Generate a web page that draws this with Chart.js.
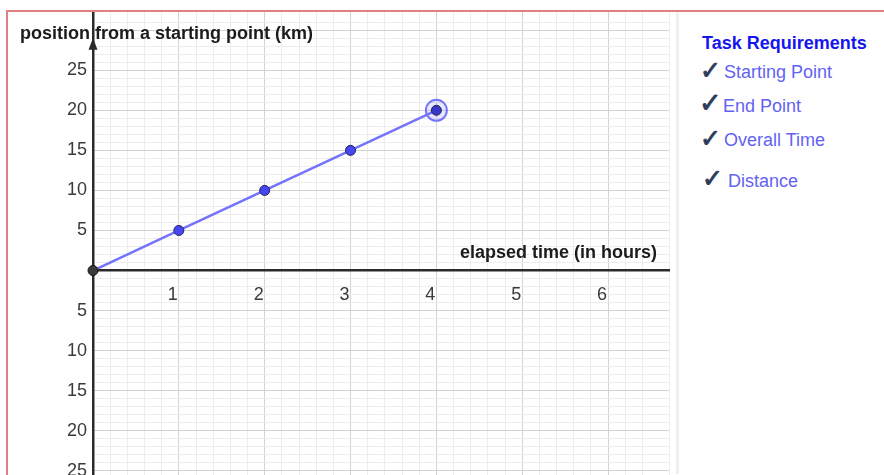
<!DOCTYPE html>
<html>
<head>
<meta charset="utf-8">
<script src="https://cdn.jsdelivr.net/npm/chart.js@4"></script>
<style>
html, body { margin: 0; padding: 0; background: #fff; width: 884px; height: 475px; overflow: hidden; font-family: "Liberation Sans", Arial, sans-serif; }
#frame { position: absolute; left: 6px; top: 10px; width: 900px; height: 520px; border-left: 2px solid #e08080; border-top: 2px solid #e08080; z-index: 2; }
#wrap { position: absolute; left: 9px; top: -5px; width: 674px; height: 523px; z-index: 1; }
#sep { position: absolute; left: 676px; top: 12px; width: 3px; height: 462px; background: #f0f0f0; }
.axis-title { position: absolute; font-weight: bold; font-size: 18px; line-height: 20px; color: #1b1b1b; white-space: nowrap; z-index: 3; }
#panel-title { position: absolute; left: 702px; top: 33px; font-weight: bold; font-size: 18px; line-height: 20px; color: #1515ee; white-space: nowrap; }
.req { position: absolute; font-size: 18px; line-height: 20px; color: #6262f2; white-space: nowrap; }
.req .tick { position: absolute; color: #2d3c58; font-family: "DejaVu Sans", sans-serif; font-size: 25px; line-height: 24px; -webkit-text-stroke: 0.9px #2d3c58; }
</style>
</head>
<body>
<div id="frame"></div>
<div id="sep"></div>
<div id="wrap"><canvas id="distChart" width="674" height="523"></canvas></div>
<div class="axis-title" style="left:20px; top:23px;">position from a starting point (km)</div>
<div class="axis-title" style="left:460px; top:242px;">elapsed time (in hours)</div>
<div id="panel-title">Task Requirements</div>
<div class="req" style="left:724px; top:62px;"><span class="tick" style="left:-24px; top:-3px;">✓</span>Starting Point</div>
<div class="req" style="left:723px; top:96px;"><span class="tick" style="left:-24px; top:-5px; font-size:27px;">✓</span>End Point</div>
<div class="req" style="left:724px; top:130px;"><span class="tick" style="left:-24px; top:-3px;">✓</span>Overall Time</div>
<div class="req" style="left:728px; top:171px;"><span class="tick" style="left:-26px; top:-4px;">✓</span>Distance</div>
<script>
// elapsed time (h) and position (km) of the trip
const hours = [0, 1, 2, 3, 4];
const positionKm = [0, 5, 10, 15, 20];
// the selected end point
const endHours = [4];
const endKm = [20];

// axis ranges / steps
const xMin = 0, xMax = 6.71, xMinor = 0.2;
const yMin = -28.8, yMax = 32.3, yMinor = 1, yMajor = 5, yLabelMax = 25;

const AXIS = '#2a2a2a';
const GRID_MAJOR = '#d2d2d2';
const GRID_MINOR = '#ededed';

function near(v, step) {
    return Math.abs(v / step - Math.round(v / step)) < 1e-6;
}

const yArrow = {
    id: 'yArrow',
    afterDraw(chart) {
        const ctx = chart.ctx;
        const x = chart.scales.x.getPixelForValue(0);
        const top = chart.chartArea.top;
        ctx.save();
        ctx.fillStyle = AXIS;
        ctx.beginPath();
        ctx.moveTo(x, top + 26);
        ctx.lineTo(x - 4.5, top + 38);
        ctx.lineTo(x + 4.5, top + 38);
        ctx.closePath();
        ctx.fill();
        ctx.restore();
    }
};

const ctx = document.getElementById('distChart').getContext('2d');
new Chart(ctx, {
    type: 'scatter',
    data: {
        datasets: [{
            label: 'selected',
            data: endHours.map((h, i) => ({ x: h, y: endKm[i] })),
            pointRadius: 10.5,
            pointBackgroundColor: 'rgba(120, 120, 255, 0.18)',
            pointBorderColor: '#7474ff',
            pointBorderWidth: 2,
            showLine: false,
            clip: false,
            order: 2
        }, {
            label: 'position',
            data: hours.map((h, i) => ({ x: h, y: positionKm[i] })),
            showLine: true,
            borderColor: '#7373fb',
            borderWidth: 2.5,
            pointRadius: 5,
            pointBackgroundColor: ctx => ctx.dataIndex === 0 ? '#3a3a3a' : (ctx.dataIndex === hours.length - 1 ? '#3838c8' : '#4646f2'),
            pointBorderColor: ctx => ctx.dataIndex === 0 ? '#111' : '#22225a',
            pointBorderWidth: 1,
            clip: false,
            order: 1
        }]
    },
    options: {
        responsive: false,
        animation: false,
        layout: { padding: 0 },
        plugins: { legend: { display: false }, tooltip: { enabled: false } },
        scales: {
            x: {
                type: 'linear',
                position: { y: 0 },
                min: xMin,
                max: xMax,
                afterFit: s => { s.height = 0; },
                border: { color: AXIS, width: 2.5 },
                grid: {
                    drawTicks: false,
                    color: c => near(c.tick.value, 1) ? GRID_MAJOR : GRID_MINOR,
                    lineWidth: 1
                },
                ticks: {
                    stepSize: xMinor,
                    autoSkip: false,
                    maxRotation: 0,
                    padding: 14,
                    labelOffset: -6,
                    color: '#3a3a3a',
                    font: { family: "'Liberation Sans', Arial, sans-serif", size: 18 },
                    callback: v => (near(v, 1) && Math.round(v) !== 0) ? String(Math.round(v)) : ''
                }
            },
            y: {
                type: 'linear',
                position: 'left',
                min: yMin,
                max: yMax,
                afterFit: s => { s.width = 84; },
                border: { color: AXIS, width: 2.5 },
                grid: {
                    drawTicks: false,
                    color: c => near(c.tick.value, yMajor) ? GRID_MAJOR : GRID_MINOR,
                    lineWidth: 1
                },
                ticks: {
                    stepSize: yMinor,
                    autoSkip: false,
                    padding: 6,
                    color: '#3a3a3a',
                    font: { family: "'Liberation Sans', Arial, sans-serif", size: 18 },
                    callback: v => (near(v, yMajor) && Math.round(v) !== 0 && v <= yLabelMax) ? String(Math.abs(Math.round(v))) : ''
                }
            }
        }
    },
    plugins: [yArrow]
});
</script>
</body>
</html>
